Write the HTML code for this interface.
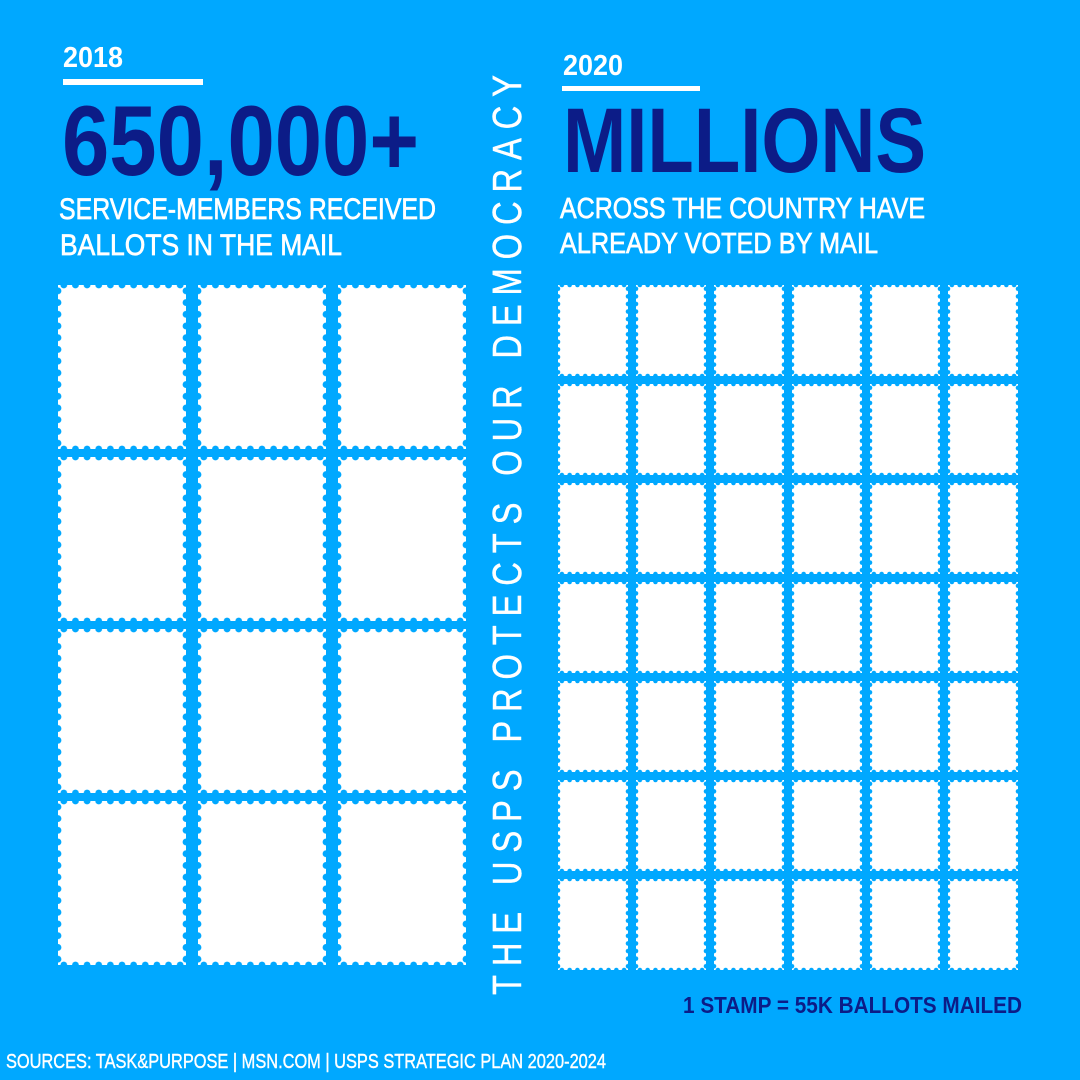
<!DOCTYPE html>
<html>
<head>
<meta charset="utf-8">
<style>
  html, body { margin: 0; padding: 0; background: #00a8ff; }
  svg { display: block; }
  text { font-family: "Liberation Sans", "DejaVu Sans", sans-serif; }
</style>
</head>
<body>
<svg width="1080" height="1080" viewBox="0 0 1080 1080" xmlns="http://www.w3.org/2000/svg">
  <defs>
    <pattern id="pLt" patternUnits="userSpaceOnUse" x="0" y="-4" width="11.636" height="8">
      <circle cx="5.818" cy="4" r="3.4" fill="#00a8ff"/>
    </pattern>
    <pattern id="pLb" patternUnits="userSpaceOnUse" x="0" y="160" width="11.636" height="8">
      <circle cx="5.818" cy="4" r="3.4" fill="#00a8ff"/>
    </pattern>
    <pattern id="pLl" patternUnits="userSpaceOnUse" x="-4" y="0" width="8" height="11.714">
      <circle cx="4" cy="5.857" r="3.4" fill="#00a8ff"/>
    </pattern>
    <pattern id="pLr" patternUnits="userSpaceOnUse" x="124" y="0" width="8" height="11.714">
      <circle cx="4" cy="5.857" r="3.4" fill="#00a8ff"/>
    </pattern>
    <pattern id="pRt" patternUnits="userSpaceOnUse" x="0" y="-3" width="7.778" height="6">
      <circle cx="3.889" cy="3" r="2.3" fill="#00a8ff"/>
    </pattern>
    <pattern id="pRb" patternUnits="userSpaceOnUse" x="0" y="88" width="7.778" height="6">
      <circle cx="3.889" cy="3" r="2.3" fill="#00a8ff"/>
    </pattern>
    <pattern id="pRl" patternUnits="userSpaceOnUse" x="-3" y="0" width="6" height="7.583">
      <circle cx="3" cy="3.792" r="2.3" fill="#00a8ff"/>
    </pattern>
    <pattern id="pRr" patternUnits="userSpaceOnUse" x="67" y="0" width="6" height="7.583">
      <circle cx="3" cy="3.792" r="2.3" fill="#00a8ff"/>
    </pattern>

    <g id="L">
      <rect x="0" y="0" width="128" height="164" fill="#ffffff"/>
      <rect x="0" y="-4" width="128" height="8" fill="url(#pLt)"/>
      <rect x="0" y="160" width="128" height="8" fill="url(#pLb)"/>
      <rect x="-4" y="0" width="8" height="164" fill="url(#pLl)"/>
      <rect x="124" y="0" width="8" height="164" fill="url(#pLr)"/>
    </g>
    <g id="R">
      <rect x="0" y="0" width="70" height="91" fill="#ffffff"/>
      <rect x="0" y="-3" width="70" height="6" fill="url(#pRt)"/>
      <rect x="0" y="88" width="70" height="6" fill="url(#pRb)"/>
      <rect x="-3" y="0" width="6" height="91" fill="url(#pRl)"/>
      <rect x="67" y="0" width="6" height="91" fill="url(#pRr)"/>
    </g>
  </defs>

  <rect x="0" y="0" width="1080" height="1080" fill="#00a8ff"/>

  <!-- LEFT HEADER -->
  <text x="63" y="67" font-size="29" font-weight="700" fill="#ffffff" textLength="60" lengthAdjust="spacingAndGlyphs">2018</text>
  <rect x="63" y="79" width="140" height="6" fill="#ffffff"/>
  <text x="62" y="175" font-size="99" font-weight="700" fill="#0c1c87" textLength="357" lengthAdjust="spacingAndGlyphs">650,000+</text>
  <text x="59" y="219" font-size="30" fill="#ffffff" stroke="#ffffff" stroke-width="0.7" textLength="377" lengthAdjust="spacingAndGlyphs">SERVICE-MEMBERS RECEIVED</text>
  <text x="60" y="255" font-size="30" fill="#ffffff" stroke="#ffffff" stroke-width="0.7" textLength="282" lengthAdjust="spacingAndGlyphs">BALLOTS IN THE MAIL</text>

  <!-- RIGHT HEADER -->
  <text x="563" y="75" font-size="29" font-weight="700" fill="#ffffff" textLength="60" lengthAdjust="spacingAndGlyphs">2020</text>
  <rect x="562" y="86" width="138" height="5" fill="#ffffff"/>
  <text x="563" y="172" font-size="92" font-weight="700" fill="#0c1c87" textLength="363" lengthAdjust="spacingAndGlyphs">MILLIONS</text>
  <text x="560" y="218" font-size="29" fill="#ffffff" stroke="#ffffff" stroke-width="0.7" textLength="365" lengthAdjust="spacingAndGlyphs">ACROSS THE COUNTRY HAVE</text>
  <text x="560" y="253" font-size="29" fill="#ffffff" stroke="#ffffff" stroke-width="0.7" textLength="318" lengthAdjust="spacingAndGlyphs">ALREADY VOTED BY MAIL</text>

  <!-- VERTICAL TEXT -->
  <text transform="translate(521,995) rotate(-90) scale(0.8,1)" x="0" y="0" font-size="41" fill="#ffffff" stroke="#ffffff" stroke-width="0.4" textLength="1150" lengthAdjust="spacing">THE USPS PROTECTS OUR DEMOCRACY</text>

  <!-- LEFT STAMPS -->
  <use href="#L" x="58" y="285"/>
  <use href="#L" x="198" y="285"/>
  <use href="#L" x="338" y="285"/>
  <use href="#L" x="58" y="457"/>
  <use href="#L" x="198" y="457"/>
  <use href="#L" x="338" y="457"/>
  <use href="#L" x="58" y="629"/>
  <use href="#L" x="198" y="629"/>
  <use href="#L" x="338" y="629"/>
  <use href="#L" x="58" y="801"/>
  <use href="#L" x="198" y="801"/>
  <use href="#L" x="338" y="801"/>

  <!-- RIGHT STAMPS -->
  <use href="#R" x="558" y="285"/><use href="#R" x="636" y="285"/><use href="#R" x="714" y="285"/><use href="#R" x="792" y="285"/><use href="#R" x="870" y="285"/><use href="#R" x="948" y="285"/>
  <use href="#R" x="558" y="384"/><use href="#R" x="636" y="384"/><use href="#R" x="714" y="384"/><use href="#R" x="792" y="384"/><use href="#R" x="870" y="384"/><use href="#R" x="948" y="384"/>
  <use href="#R" x="558" y="483"/><use href="#R" x="636" y="483"/><use href="#R" x="714" y="483"/><use href="#R" x="792" y="483"/><use href="#R" x="870" y="483"/><use href="#R" x="948" y="483"/>
  <use href="#R" x="558" y="582"/><use href="#R" x="636" y="582"/><use href="#R" x="714" y="582"/><use href="#R" x="792" y="582"/><use href="#R" x="870" y="582"/><use href="#R" x="948" y="582"/>
  <use href="#R" x="558" y="681"/><use href="#R" x="636" y="681"/><use href="#R" x="714" y="681"/><use href="#R" x="792" y="681"/><use href="#R" x="870" y="681"/><use href="#R" x="948" y="681"/>
  <use href="#R" x="558" y="780"/><use href="#R" x="636" y="780"/><use href="#R" x="714" y="780"/><use href="#R" x="792" y="780"/><use href="#R" x="870" y="780"/><use href="#R" x="948" y="780"/>
  <use href="#R" x="558" y="879"/><use href="#R" x="636" y="879"/><use href="#R" x="714" y="879"/><use href="#R" x="792" y="879"/><use href="#R" x="870" y="879"/><use href="#R" x="948" y="879"/>

  <!-- LEGEND / FOOTER -->
  <text x="683" y="1013" font-size="23" font-weight="700" fill="#0c1c87" textLength="339" lengthAdjust="spacingAndGlyphs">1 STAMP = 55K BALLOTS MAILED</text>
  <text x="6" y="1068" font-size="20" fill="#ffffff" stroke="#ffffff" stroke-width="0.4" textLength="600" lengthAdjust="spacingAndGlyphs">SOURCES: TASK&amp;PURPOSE | MSN.COM | USPS STRATEGIC PLAN 2020-2024</text>
</svg>
</body>
</html>
